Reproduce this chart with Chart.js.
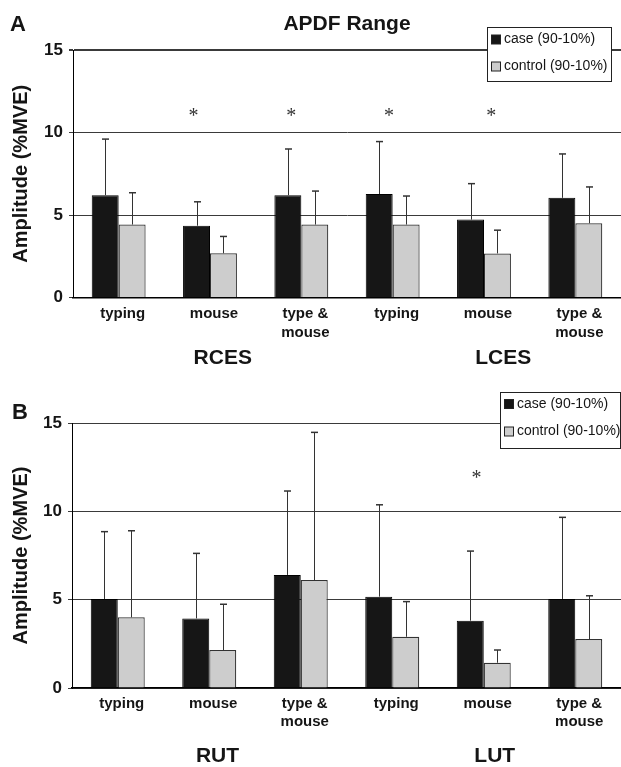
<!DOCTYPE html>
<html>
<head>
<meta charset="utf-8">
<script src="https://cdn.jsdelivr.net/npm/chart.js@4.4.1/dist/chart.umd.min.js"></script>
<style>
  html, body { margin: 0; padding: 0; background: #fff; overflow: hidden; }
  canvas { display: block; }
</style>
</head>
<body>
<canvas id="chartA" width="621" height="383"></canvas>
<canvas id="chartB" width="621" height="384"></canvas>
<script>
// ---- data ----
const categories = [['typing'], ['mouse'], ['type &', 'mouse'], ['typing'], ['mouse'], ['type &', 'mouse']];
const seriesNames = ['case (90-10%)', 'control (90-10%)'];

// panel A : APDF range, RCES / LCES
const caseA       = [6.2, 4.35, 6.2, 6.27, 4.72, 6.04];
const caseErrA    = [9.6, 5.8, 9.0, 9.45, 6.9, 8.7];
const controlA    = [4.42, 2.68, 4.42, 4.42, 2.67, 4.5];
const controlErrA = [6.35, 3.7, 6.45, 6.15, 4.08, 6.7];
const groupsA     = ['RCES', 'LCES'];
const sigCatsA    = [1, 2, 3, 4];   // categories marked with *
const sigLevelA   = 11.2;

// panel B : RUT / LUT
const caseB       = [5.04, 3.94, 6.4, 5.17, 3.81, 5.04];
const caseErrB    = [8.85, 7.62, 11.15, 10.37, 7.75, 9.66];
const controlB    = [4.0, 2.15, 6.11, 2.9, 1.43, 2.77];
const controlErrB = [8.9, 4.74, 14.47, 4.89, 2.15, 5.22];
const groupsB     = ['RUT', 'LUT'];
const sigCatsB    = [4];
const sigLevelB   = 12.06;

const yTicks = [0, 5, 10, 15];

const FONT = '"Liberation Sans", Arial, sans-serif';
const INK = '#151515';

// error bars, labels, legend, asterisks
const extras = {
  id: 'extras',
  afterDatasetsDraw(chart) {
    const ctx = chart.ctx, y = chart.scales.y;
    chart.data.datasets.forEach((ds, i) => {
      chart.getDatasetMeta(i).data.forEach((bar, j) => {
        const x = Math.round(bar.x) + 0.5;
        const top = y.getPixelForValue(ds.errUp[j]);
        ctx.save();
        ctx.strokeStyle = '#333';
        ctx.lineWidth = 1;
        ctx.beginPath();
        ctx.moveTo(x, bar.y);
        ctx.lineTo(x, top);
        ctx.stroke();
        ctx.lineWidth = 1.5;
        ctx.beginPath();
        ctx.moveTo(x - 3.5, top);
        ctx.lineTo(x + 3.5, top);
        ctx.stroke();
        ctx.restore();
      });
    });
  },
  afterDraw(chart, args, o) {
    const ctx = chart.ctx, xs = chart.scales.x, ys = chart.scales.y, area = chart.chartArea;
    ctx.save();
    ctx.fillStyle = INK;
    ctx.textAlign = 'center';
    ctx.textBaseline = 'middle';

    // panel letter
    ctx.font = 'bold 22px ' + FONT;
    ctx.fillText(o.letter, o.letterPos[0], o.letterPos[1]);

    // title
    if (o.title) {
      ctx.font = 'bold 21px ' + FONT;
      ctx.fillText(o.title, (area.left + area.right) / 2, o.titleY);
    }

    // group labels under the axis
    ctx.font = 'bold 21px ' + FONT;
    o.groups.forEach((g, k) => {
      ctx.fillText(g, xs.getPixelForValue(o.groupPos[k]), area.bottom + o.groupDy);
    });

    // significance asterisks
    ctx.font = '20px "Liberation Serif", serif';
    ctx.fillStyle = '#333';
    o.sigCats.forEach((c, k) => {
      ctx.fillText('*', xs.getPixelForValue(c + o.sigShift[k]), ys.getPixelForValue(o.sigLevel) + 4);
    });

    // legend box
    const lg = o.legend;
    ctx.fillStyle = '#fff';
    ctx.fillRect(lg.x, lg.y, lg.w, lg.h);
    ctx.strokeStyle = '#222';
    ctx.lineWidth = 1;
    ctx.strokeRect(lg.x + 0.5, lg.y + 0.5, lg.w, lg.h);
    ctx.font = '14px ' + FONT;
    ctx.textAlign = 'left';
    chart.data.datasets.forEach((ds, i) => {
      const cy = lg.y + lg.row0 + i * lg.rowGap;
      ctx.fillStyle = ds.backgroundColor;
      ctx.fillRect(lg.x + 4, cy - 4.5, 9, 9);
      ctx.strokeStyle = '#222';
      ctx.strokeRect(lg.x + 4.5, cy - 4.5, 9, 9);
      ctx.fillStyle = INK;
      ctx.fillText(ds.label, lg.x + 17, cy);
    });
    ctx.restore();
  }
};

function makeChart(id, caseVals, caseErr, ctrlVals, ctrlErr, opt) {
  return new Chart(document.getElementById(id), {
    type: 'bar',
    data: {
      labels: categories,
      datasets: [
        { label: seriesNames[0], data: caseVals, errUp: caseErr,
          backgroundColor: '#161616', borderColor: '#000', borderWidth: 1 },
        { label: seriesNames[1], data: ctrlVals, errUp: ctrlErr,
          backgroundColor: '#cdcdcd', borderColor: '#333', borderWidth: 1.2 }
      ]
    },
    options: {
      responsive: false,
      animation: false,
      layout: { padding: { top: opt.top, right: 0, bottom: 0, left: 0 } },
      plugins: {
        legend: { display: false },
        tooltip: { enabled: false },
        extras: opt.extras
      },
      datasets: { bar: { categoryPercentage: 0.59, barPercentage: 1.0 } },
      scales: {
        x: {
          grid: { display: false },
          border: { display: true, color: '#000', width: 1.5 },
          ticks: {
            color: INK, padding: opt.xPad, labelOffset: 4, maxRotation: 0, autoSkip: false,
            font: { family: FONT, size: 15, weight: 'bold', lineHeight: 1.25 }
          },
          afterFit(s) { s.height = opt.xHeight; }
        },
        y: {
          min: 0, max: 15,
          afterBuildTicks(s) { s.ticks = yTicks.map(v => ({ value: v })); },
          grid: {
            color: '#3a3a3a', tickLength: 4,
            lineWidth: c => (c.tick && c.tick.value === 15 ? opt.topLine : 1)
          },
          border: { display: true, color: '#000', width: 1 },
          ticks: { color: INK, padding: 6, font: { family: FONT, size: 17, weight: 'bold' } },
          title: {
            display: true, text: 'Amplitude (%MVE)', color: INK,
            padding: { top: 9, bottom: 0 },
            font: { family: FONT, size: 20, weight: 'bold', lineHeight: 1.2 }
          },
          afterFit(s) { s.width = opt.yWidth; }
        }
      }
    },
    plugins: [extras]
  });
}

makeChart('chartA', caseA, caseErrA, controlA, controlErrA, {
  top: 50, xHeight: 85.5, yWidth: 73, topLine: 2, xPad: -1,
  extras: {
    letter: 'A', letterPos: [18, 25], title: 'APDF Range', titleY: 24,
    groups: groupsA, groupPos: [1.14, 4.21], groupDy: 61,
    sigCats: sigCatsA, sigShift: [-0.18, -0.11, -0.04, 0.08], sigLevel: sigLevelA,
    legend: { x: 487, y: 27, w: 124, h: 54, row0: 12.5, rowGap: 27 }
  }
});

makeChart('chartB', caseB, caseErrB, controlB, controlErrB, {
  top: 40, xHeight: 79, yWidth: 72, topLine: 1, xPad: -2,
  extras: {
    letter: 'B', letterPos: [20, 30], title: null,
    groups: groupsB, groupPos: [1.09, 4.12], groupDy: 68,
    sigCats: sigCatsB, sigShift: [-0.08], sigLevel: sigLevelB,
    legend: { x: 500, y: 9, w: 120, h: 56, row0: 12, rowGap: 27.5 }
  }
});
</script>
</body>
</html>
